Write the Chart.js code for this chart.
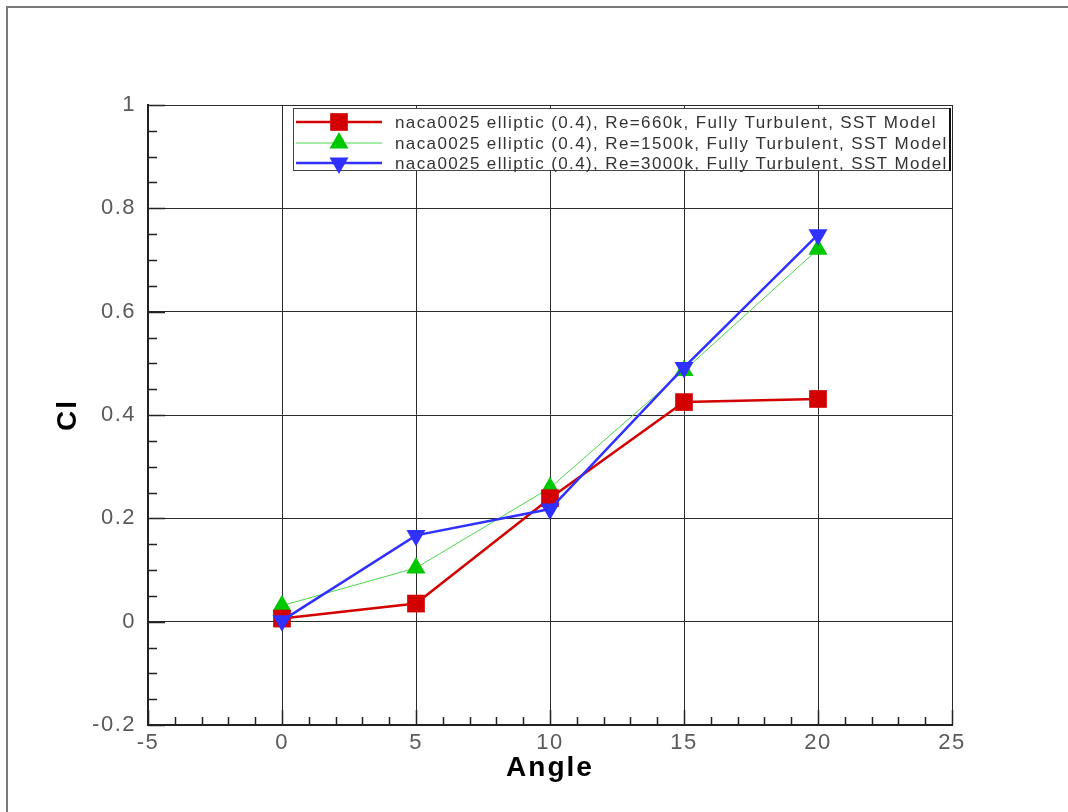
<!DOCTYPE html>
<html lang="en">
<head>
  <meta charset="UTF-8" />
  <title>Cl vs Angle</title>
  <style>
    body { margin: 0; background: #ffffff; }
    #chart { display: block; }
  </style>
</head>
<body>
  <canvas id="chart" width="1068" height="812"></canvas>

  <script src="https://cdn.jsdelivr.net/npm/chart.js"></script>
  <script>
    // values
    const angles = [0, 5, 10, 15, 20];
    const cl660 = [0.006, 0.035, 0.239, 0.425, 0.431];
    const cl1500 = [0.031, 0.104, 0.259, 0.486, 0.721];
    const cl3000 = [0.002, 0.167, 0.218, 0.492, 0.749];
    const seriesLabels = [
      'naca0025 elliptic (0.4), Re=660k, Fully Turbulent, SST Model',
      'naca0025 elliptic (0.4), Re=1500k, Fully Turbulent, SST Model',
      'naca0025 elliptic (0.4), Re=3000k, Fully Turbulent, SST Model'
    ];
    const xRange = [-5, 25], xStep = 5, xMinor = 1;
    const yRange = [-0.2, 1], yStep = 0.2, yMinor = 0.05;
    const xTitle = 'Angle';
    const yTitle = 'Cl';

    const RED = '#d20000', GREEN = '#00c800', BLUE = '#3030ff';
    const FONT = '"Liberation Sans", Arial, sans-serif';

    const toPoints = vals => angles.map((a, i) => ({ x: a, y: vals[i] }));

    // page frame + letter spacing for the stretched tecplot look
    const frame = {
      id: 'frame',
      beforeDraw(chart) {
        const ctx = chart.ctx;
        ctx.save();
        ctx.strokeStyle = '#7a7a7a';
        ctx.lineWidth = 2;
        ctx.beginPath();
        ctx.moveTo(7, chart.height);
        ctx.lineTo(7, 7);
        ctx.lineTo(chart.width, 7);
        ctx.stroke();
        ctx.restore();
        ctx.letterSpacing = '1.5px';
      }
    };

    // inward major/minor tick marks like the original
    const innerTicks = {
      id: 'innerTicks',
      beforeDatasetsDraw(chart) {
        const { ctx, chartArea: a, scales: { x, y } } = chart;
        ctx.save();
        ctx.strokeStyle = '#222';
        ctx.lineWidth = 1.5;
        ctx.beginPath();
        const nx = Math.round((xRange[1] - xRange[0]) / xMinor);
        for (let i = 0; i <= nx; i++) {
          const v = xRange[0] + i * xMinor;
          const major = Math.abs(v / xStep - Math.round(v / xStep)) < 1e-6;
          const px = Math.round(x.getPixelForValue(v)) + 0.5;
          ctx.moveTo(px, a.bottom);
          ctx.lineTo(px, a.bottom - (major ? 15 : 8));
        }
        const ny = Math.round((yRange[1] - yRange[0]) / yMinor);
        for (let i = 0; i <= ny; i++) {
          const v = yRange[0] + i * yMinor;
          const major = Math.abs(v / yStep - Math.round(v / yStep)) < 1e-6;
          const py = Math.round(y.getPixelForValue(v)) + 0.5;
          ctx.moveTo(a.left, py);
          ctx.lineTo(a.left + (major ? 17 : 9), py);
        }
        ctx.stroke();
        ctx.restore();
      }
    };

    // axis titles and the boxed legend inside the plot
    const overlay = {
      id: 'overlay',
      afterDraw(chart) {
        const { ctx, chartArea: a } = chart;
        ctx.save();
        ctx.letterSpacing = '2px';
        ctx.fillStyle = '#000';
        ctx.font = 'bold 28px ' + FONT;
        ctx.textAlign = 'center';
        ctx.textBaseline = 'middle';
        ctx.fillText(xTitle, (a.left + a.right) / 2, 768);
        ctx.translate(68, (a.top + a.bottom) / 2);
        ctx.rotate(-Math.PI / 2);
        ctx.fillText(yTitle, 0, 0);
        ctx.restore();

        // legend box
        const box = { left: 293, top: 108, right: 951, bottom: 171 };
        ctx.save();
        ctx.fillStyle = '#fff';
        ctx.fillRect(box.left, box.top, box.right - box.left, box.bottom - box.top);
        ctx.strokeStyle = '#444';
        ctx.lineWidth = 1;
        ctx.strokeRect(box.left + 0.5, box.top + 0.5, box.right - box.left - 1, box.bottom - box.top - 1);
        ctx.strokeStyle = '#111';
        ctx.lineWidth = 2;
        ctx.beginPath();
        ctx.moveTo(box.right - 1, box.top);
        ctx.lineTo(box.right - 1, box.bottom);
        ctx.stroke();

        ctx.font = '17px ' + FONT;
        ctx.letterSpacing = '0px';
        const longest = Math.max(...seriesLabels.map(s => ctx.measureText(s).width));
        const longestLen = Math.max(...seriesLabels.map(s => s.length));
        const spacing = Math.max(0, (553 - longest) / longestLen);
        ctx.letterSpacing = spacing.toFixed(2) + 'px';
        ctx.textAlign = 'left';
        ctx.textBaseline = 'middle';

        const rows = [122, 143, 163];
        chart.data.datasets.forEach((ds, i) => {
          const yy = rows[i];
          ctx.strokeStyle = ds.borderColor;
          ctx.lineWidth = ds.borderWidth;
          ctx.beginPath();
          ctx.moveTo(296, yy);
          ctx.lineTo(382, yy);
          ctx.stroke();
          ctx.fillStyle = ds.pointBackgroundColor;
          Chart.helpers.drawPoint(ctx, {
            pointStyle: ds.pointStyle,
            radius: ds.pointRadius,
            rotation: ds.pointRotation || 0,
            borderWidth: 0
          }, 339, yy);
          ctx.fillStyle = '#333';
          ctx.fillText(ds.label, 395, yy + 1);
        });
        ctx.restore();
      }
    };

    new Chart(document.getElementById('chart').getContext('2d'), {
      type: 'line',
      data: {
        datasets: [
          {
            label: seriesLabels[0],
            data: toPoints(cl660),
            order: 2,
            borderColor: RED,
            borderWidth: 2.5,
            pointStyle: 'rect',
            pointRadius: 12.5,
            pointBackgroundColor: RED,
            pointBorderWidth: 0
          },
          {
            label: seriesLabels[1],
            data: toPoints(cl1500),
            order: 3,
            borderColor: '#4ad44a',
            borderWidth: 1,
            pointStyle: 'triangle',
            pointRadius: 11,
            pointBackgroundColor: GREEN,
            pointBorderWidth: 0
          },
          {
            label: seriesLabels[2],
            data: toPoints(cl3000),
            order: 1,
            borderColor: BLUE,
            borderWidth: 2.5,
            pointStyle: 'triangle',
            pointRotation: 180,
            pointRadius: 11,
            pointBackgroundColor: BLUE,
            pointBorderWidth: 0
          }
        ]
      },
      options: {
        responsive: false,
        animation: false,
        devicePixelRatio: 1,
        layout: { padding: { top: 105, right: 116, left: 0, bottom: 0 } },
        plugins: {
          legend: { display: false },
          tooltip: { enabled: false }
        },
        elements: { line: { tension: 0 } },
        scales: {
          x: {
            type: 'linear',
            min: xRange[0],
            max: xRange[1],
            afterFit: s => { s.height = 87; },
            ticks: {
              stepSize: xStep,
              padding: 5,
              color: '#5a5a5a',
              font: { family: FONT, size: 22 }
            },
            grid: { color: '#2a2a2a', lineWidth: 1, drawTicks: false },
            border: { color: '#222', width: 2 }
          },
          y: {
            type: 'linear',
            min: yRange[0],
            max: yRange[1],
            afterFit: s => { s.width = 148; },
            ticks: {
              stepSize: yStep,
              padding: 12,
              color: '#5a5a5a',
              font: { family: FONT, size: 22 },
              callback: v => String(+v.toFixed(1))
            },
            grid: { color: '#2a2a2a', lineWidth: 1, drawTicks: false },
            border: { color: '#222', width: 2 }
          }
        }
      },
      plugins: [frame, innerTicks, overlay]
    });
  </script>
</body>
</html>
